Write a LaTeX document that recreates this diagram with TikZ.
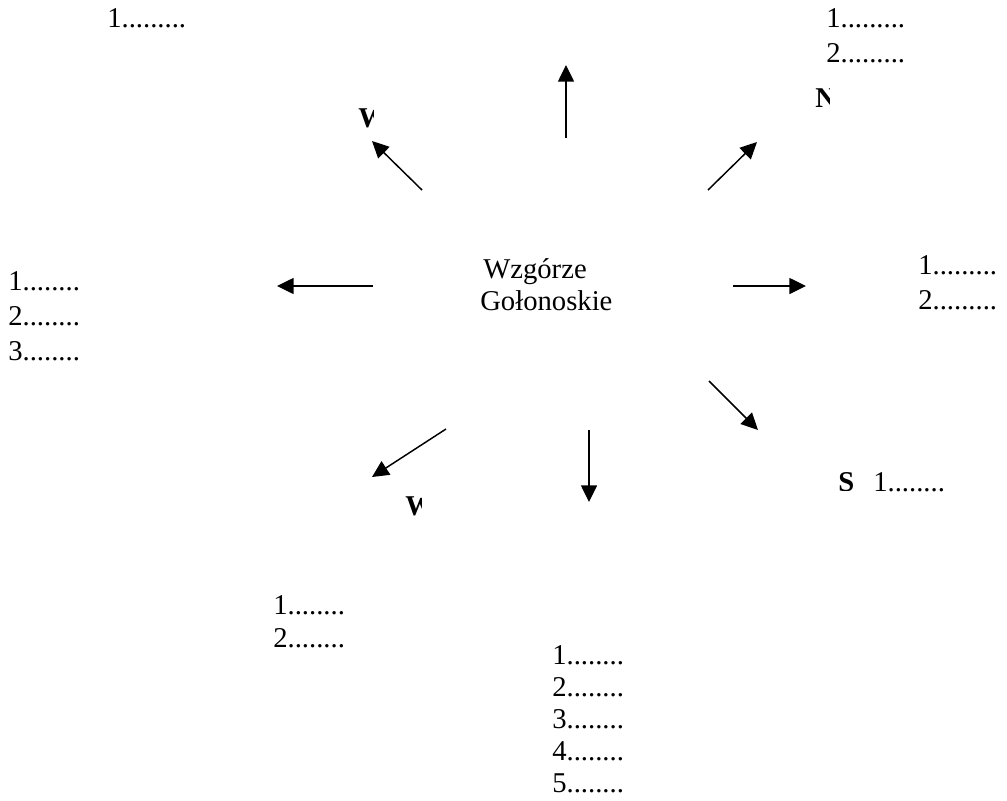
\documentclass[tikz,border=0pt]{standalone}
\usepackage{fontspec}
\setmainfont{Liberation Serif}
\usetikzlibrary{arrows.meta}
\begin{document}
\begin{tikzpicture}[x=0.75pt,y=-0.75pt,
  txt/.style={anchor=base west,inner sep=0pt,font=\fontsize{21.5}{26}\selectfont},
  btxt/.style={anchor=base west,inner sep=0pt,font=\fontsize{21.5}{26}\selectfont\bfseries},
  arr/.style={line width=1.1pt,-{Triangle[length=12.5pt,width=12pt]}}]
\useasboundingbox (0,0) rectangle (1007,800);
% centre
\node[txt] (c1) at (483,278) {Wzgórze};
\node[txt] (c2) at (480,310) {Gołonoskie};
% lists
\node[txt] (tl1) at (107,27) {1.........};
\node[txt] (tr1) at (826,27) {1.........};
\node[txt] (tr2) at (826,62) {2.........};
\node[txt] (l1) at (8,290) {1........};
\node[txt] (l2) at (8,325) {2........};
\node[txt] (l3) at (8,360) {3........};
\node[txt] (r1) at (918,274) {1.........};
\node[txt] (r2) at (918,309) {2.........};
\node[txt] (s1) at (873,491) {1........};
\node[txt] (bl1) at (273,614) {1........};
\node[txt] (bl2) at (273,647) {2........};
\node[txt] (b1) at (552,664) {1........};
\node[txt] (b2) at (552,696) {2........};
\node[txt] (b3) at (552,728) {3........};
\node[txt] (b4) at (552,760) {4........};
\node[txt] (b5) at (552,792) {5........};
% clipped bold letters
\begin{scope}
\clip (340,90) rectangle (373,140);
\node[btxt] (wl) at (358,127) {W};
\end{scope}
\begin{scope}
\clip (800,70) rectangle (829,120);
\node[btxt] (nn) at (815,107) {N};
\end{scope}
\begin{scope}
\clip (820,460) rectangle (870,490);
\node[btxt] (ss) at (838,491) {S};
\end{scope}
\begin{scope}
\clip (390,480) rectangle (421,530);
\node[btxt] (wb) at (405,515) {W};
\end{scope}
% arrows
\coordinate (uA) at (566,138); \coordinate (uB) at (566,65);
\coordinate (tlA) at (422,190); \coordinate (tlB) at (372,141);
\coordinate (trA) at (708,190); \coordinate (trB) at (757,142);
\coordinate (lA) at (373,286); \coordinate (lB) at (277,286);
\coordinate (rA) at (733,286); \coordinate (rB) at (806,286);
\coordinate (brA) at (709,381); \coordinate (brB) at (758,430);
\coordinate (bA) at (589,430); \coordinate (bB) at (589,502);
\coordinate (blA) at (446,429); \coordinate (blB) at (372,477);
\draw[arr] (uA) -- (uB);
\draw[arr] (tlA) -- (tlB);
\draw[arr] (trA) -- (trB);
\draw[arr] (lA) -- (lB);
\draw[arr] (rA) -- (rB);
\draw[arr] (brA) -- (brB);
\draw[arr] (bA) -- (bB);
\draw[arr] (blA) -- (blB);
\end{tikzpicture}
\end{document}
